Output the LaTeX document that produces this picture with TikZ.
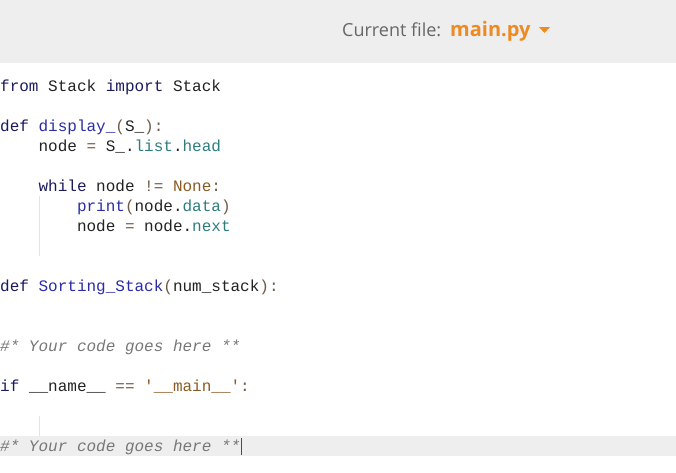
\documentclass[tikz,border=0pt]{standalone}
\usepackage{fontspec}
\setmainfont{Liberation Sans}
\setmonofont{Liberation Mono}
\newfontfamily\hdrfont{Open Sans}
\definecolor{hdrbg}{HTML}{EEEEEE}
\definecolor{kw}{HTML}{1A1A5E}
\definecolor{fn}{HTML}{2B2BA8}
\definecolor{attr}{HTML}{2E7D7D}
\definecolor{lit}{HTML}{8A5A24}
\definecolor{pun}{HTML}{6B5B45}
\definecolor{cmt}{HTML}{777777}
\definecolor{txt}{HTML}{222222}
\definecolor{orng}{HTML}{EE8A22}
\definecolor{guide}{HTML}{E4E4E4}
\newcommand{\K}[1]{\textcolor{kw}{#1}}
\newcommand{\F}[1]{\textcolor{fn}{#1}}
\newcommand{\A}[1]{\textcolor{attr}{#1}}
\newcommand{\Lt}[1]{\textcolor{lit}{#1}}
\newcommand{\Pn}[1]{\textcolor{pun}{#1}}
\begin{document}
\begin{tikzpicture}[x=1pt,y=-1pt,
  codeline/.style={anchor=base west,inner sep=0pt,font=\ttfamily\fontsize{16}{18}\selectfont,text=txt},
  cmtline/.style={codeline,text=cmt,font=\ttfamily\itshape\fontsize{16}{18}\selectfont}]
\useasboundingbox (0,0) rectangle (676,472);
\fill[hdrbg] (0,0) rectangle (676,63);
\fill[hdrbg] (0,436) rectangle (676,456);
\node[anchor=base west,inner sep=0pt,text=black!60,font=\hdrfont\fontsize{18}{22}\selectfont] (cur) at (342,36) {Current file:};
\node[anchor=base west,inner sep=0pt,text=orng,font=\hdrfont\bfseries\fontsize{20}{22}\selectfont] (mp) at (450,36) {main.py};
\fill[orng] (539,27) -- (550,27) -- (544.5,33) -- cycle;
\draw[guide,line width=1pt] (39,196) -- (39,256);
\draw[guide,line width=1pt] (39,416) -- (39,436);
\draw[black!70,line width=0.8pt] (241,438) -- (241,455);
\node[codeline] (l1) at (0,91) {\K{from} Stack \K{import} Stack};
\node[codeline] (l2) at (0,131) {\K{def} \F{display\_}\Pn{(}S\_\Pn{):}};
\node[codeline] (l3) at (0,151) {\ \ \ \ node \Pn{=} S\_.\A{list}.\A{head}};
\node[codeline] (l4) at (0,191) {\ \ \ \ \K{while} node \Pn{!=} \Lt{None}\Pn{:}};
\node[codeline] (l5) at (0,211) {\ \ \ \ \ \ \ \ \F{print}\Pn{(}node.\A{data}\Pn{)}};
\node[codeline] (l6) at (0,231) {\ \ \ \ \ \ \ \ node \Pn{=} node.\A{next}};
\node[codeline] (l7) at (0,291) {\K{def} \F{Sorting\_Stack}\Pn{(}num\_stack\Pn{):}};
\node[cmtline] (l8) at (0,351) {\#* Your code goes here **};
\node[codeline] (l9) at (0,391) {\K{if} \_\_name\_\_ \Pn{==} \Lt{'\_\_main\_\_'}\Pn{:}};
\node[cmtline] (l10) at (0,451) {\#* Your code goes here **};
\end{tikzpicture}
\end{document}
